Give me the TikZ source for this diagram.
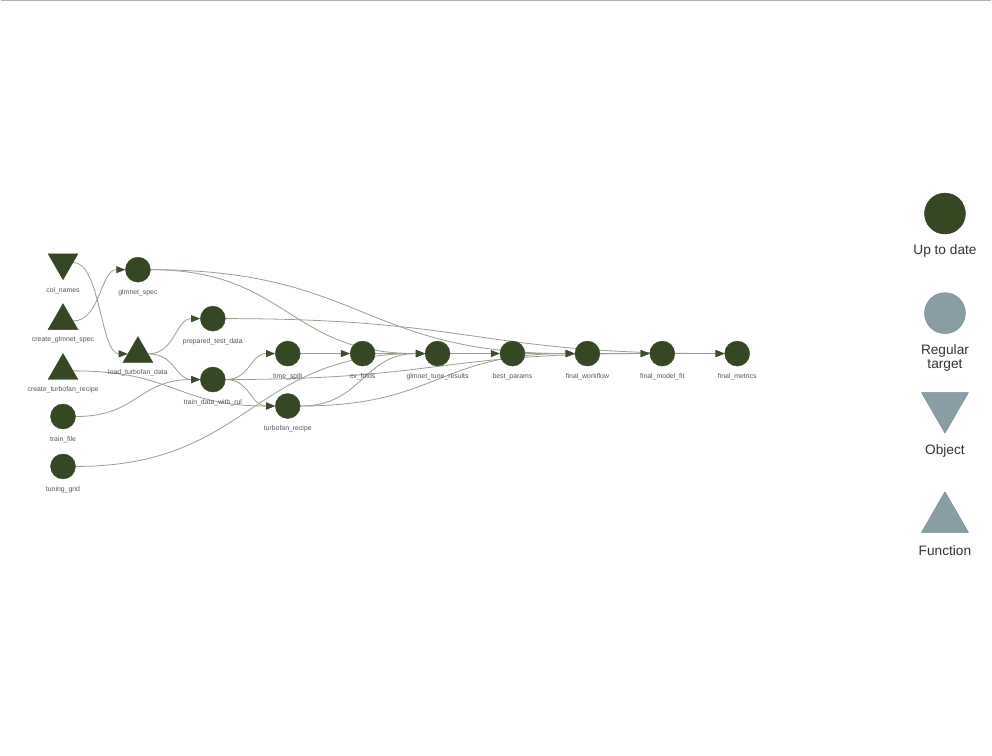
\documentclass[tikz,border=0pt]{standalone}
\usepackage{fontspec}
\setmainfont{Liberation Sans}
\usetikzlibrary{shapes.geometric,arrows.meta}
\pgfdeclarelayer{bg}
\pgfdeclarelayer{edgelayer}
\pgfsetlayers{bg,edgelayer,main}
\definecolor{nodegreen}{HTML}{354823}
\definecolor{edgecol}{HTML}{999F8D}
\definecolor{arrowcol}{HTML}{3D4B2E}
\definecolor{labgray}{HTML}{555555}
\definecolor{leggray}{HTML}{899DA4}
\definecolor{legborder}{HTML}{6F8690}
\definecolor{legtext}{HTML}{343434}
\tikzset{
  tgt/.style={circle, fill=nodegreen, draw=nodegreen, minimum size=25pt, inner sep=0pt,
    label distance=7pt},
  fnc/.style={regular polygon, regular polygon sides=3, fill=nodegreen, draw=nodegreen,
    minimum size=34.6pt, inner sep=0pt, label distance=6.3pt},
  obj/.style={fnc, shape border rotate=180},
  lab/.style={font=\fontsize{6.9}{7}\selectfont, text=labgray, inner sep=0pt,
    text height=5pt, text depth=1.5pt, yshift=-7pt},
  edge/.style={draw=edgecol, line width=0.8pt,
    -{Triangle[length=9pt,width=7pt,color=arrowcol]}},
  legtxt/.style={font=\fontsize{13.7}{14}\selectfont, text=legtext, align=center, inner sep=0pt}
}
\begin{document}
\begin{tikzpicture}[x=1pt,y=-1pt]
\begin{pgfonlayer}{bg}
\fill[white] (0,0) rectangle (992,756);
\draw[draw=black!30, line width=1.2pt] (0,0.6) -- (992,0.6);
\end{pgfonlayer}
\useasboundingbox (0,0) rectangle (992,756);

% nodes column 0
\node[obj, label={[lab]below:col\_names}] (colnames) at (62.5,262.7) {};
\node[fnc, label={[lab]below:create\_glmnet\_spec}] (cglm) at (62.5,321.3) {};
\node[fnc, label={[lab]below:create\_turbofan\_recipe}] (ctur) at (62.5,371.3) {};
\node[tgt, label={[lab]below:train\_file}] (trainfile) at (62.5,417) {};
\node[tgt, label={[lab]below:tuning\_grid}] (tgrid) at (62.5,467) {};
% column 1
\node[tgt, label={[lab]below:glmnet\_spec}] (gspec) at (137.5,270) {};
\node[fnc, label={[lab]below:load\_turbofan\_data}] (load) at (137.5,354.3) {};
% column 2
\node[tgt, label={[lab]below:prepared\_test\_data}] (ptest) at (212.5,319) {};
\node[tgt, label={[lab]below:train\_data\_with\_rul}] (trul) at (212.5,380) {};
% column 3
\node[tgt, label={[lab]below:time\_split}] (tsplit) at (287.5,354) {};
\node[tgt, label={[lab]below:turbofan\_recipe}] (trec) at (287.5,406.5) {};
% columns 4..9
\node[tgt, label={[lab]below:cv\_folds}] (cvf) at (362.5,354) {};
\node[tgt, label={[lab]below:glmnet\_tune\_results}] (gtune) at (437.5,354) {};
\node[tgt, label={[lab]below:best\_params}] (bparams) at (512.5,354) {};
\node[tgt, label={[lab]below:final\_workflow}] (fwf) at (587.5,354) {};
\node[tgt, label={[lab]below:final\_model\_fit}] (fmf) at (662.5,354) {};
\node[tgt, label={[lab]below:final\_metrics}] (fmet) at (737.5,354) {};

% edges
\begin{pgfonlayer}{edgelayer}
\draw[edge] (colnames) .. controls +(37.5,0) and +(-37.5,0) .. (load);
\draw[edge] (cglm) .. controls +(37.5,0) and +(-37.5,0) .. (gspec);
\draw[edge] (ctur) .. controls +(112.5,0) and +(-112.5,0) .. (trec);
\draw[edge] (trainfile) .. controls +(75,0) and +(-75,0) .. (trul);
\draw[edge] (tgrid) .. controls +(187.5,0) and +(-187.5,0) .. (gtune);
\draw[edge] (gspec) .. controls +(150,0) and +(-150,0) .. (gtune);
\draw[edge] (gspec) .. controls +(225,0) and +(-225,0) .. (fwf);
\draw[edge] (load) .. controls +(37.5,0) and +(-37.5,0) .. (ptest);
\draw[edge] (load) .. controls +(37.5,0) and +(-37.5,0) .. (trul);
\draw[edge] (ptest) .. controls +(262.5,0) and +(-262.5,0) .. (fmet);
\draw[edge] (trul) .. controls +(37.5,0) and +(-37.5,0) .. (tsplit);
\draw[edge] (trul) .. controls +(37.5,0) and +(-37.5,0) .. (trec);
\draw[edge] (trul) .. controls +(225,0) and +(-225,0) .. (fmf);
\draw[edge] (tsplit) -- (cvf);
\draw[edge] (trec) .. controls +(75,0) and +(-75,0) .. (gtune);
\draw[edge] (trec) .. controls +(150,0) and +(-150,0) .. (fwf);
\draw[edge] (cvf) -- (gtune);
\draw[edge] (gtune) -- (bparams);
\draw[edge] (bparams) -- (fwf);
\draw[edge] (fwf) -- (fmf);
\draw[edge] (fmf) -- (fmet);
\end{pgfonlayer}

% legend
\node[circle, fill=nodegreen, draw=nodegreen!80!black, minimum size=41pt, inner sep=0pt] (lgup) at (945.5,213.8) {};
\node[legtxt] (lgupt) at (945.5,251.5) {Up to date};
\node[circle, fill=leggray, draw=legborder, minimum size=41pt, inner sep=0pt] (lgreg) at (945.5,313.5) {};
\node[legtxt] (lgregt) at (945.5,358) {Regular\\target};
\node[regular polygon, regular polygon sides=3, shape border rotate=180, fill=leggray, draw=legborder,
  minimum size=54.3pt, inner sep=0pt] (lgobj) at (945.5,406.6) {};
\node[legtxt] (lgobjt) at (945.5,451.5) {Object};
\node[regular polygon, regular polygon sides=3, fill=leggray, draw=legborder,
  minimum size=54.3pt, inner sep=0pt] (lgfun) at (945.5,519.4) {};
\node[legtxt] (lgfunt) at (945.5,551) {Function};
\end{tikzpicture}
\end{document}
